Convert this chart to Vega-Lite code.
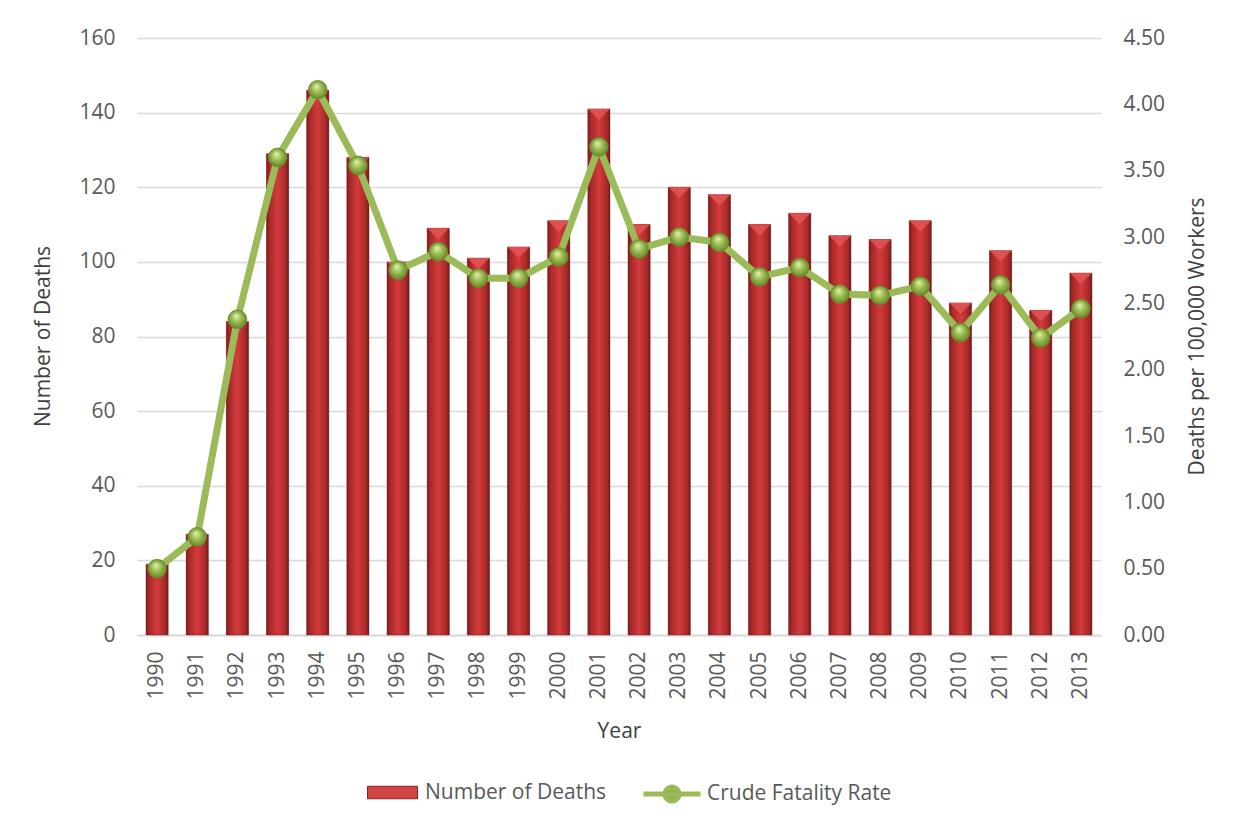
{
  "$schema": "https://vega.github.io/schema/vega-lite/v6.json",
  "width": 964,
  "height": 597,
  "autosize": {"type": "none"},
  "padding": {"left": 137, "top": 38, "right": 134, "bottom": 192},
  "background": "white",
  "config": {
    "font": "Open Sans",
    "view": {"stroke": null},
    "axis": {"labelColor": "#595959", "titleColor": "#404040", "labelFontSize": 21, "titleFontSize": 21, "titleFontWeight": "normal", "ticks": false, "gridColor": "#d9d9d9", "gridWidth": 1.5, "domainColor": "#d9d9d9", "domainWidth": 2},
    "legend": {"labelColor": "#595959", "labelFontSize": 21, "labelLimit": 0, "padding": 0, "title": null}
  },
  "data": {"values": [
    {"year": "1990", "deaths": 19, "rate": 0.50},
    {"year": "1991", "deaths": 27, "rate": 0.74},
    {"year": "1992", "deaths": 84, "rate": 2.38},
    {"year": "1993", "deaths": 129, "rate": 3.60},
    {"year": "1994", "deaths": 146, "rate": 4.11},
    {"year": "1995", "deaths": 128, "rate": 3.54},
    {"year": "1996", "deaths": 100, "rate": 2.75},
    {"year": "1997", "deaths": 109, "rate": 2.89},
    {"year": "1998", "deaths": 101, "rate": 2.69},
    {"year": "1999", "deaths": 104, "rate": 2.69},
    {"year": "2000", "deaths": 111, "rate": 2.85},
    {"year": "2001", "deaths": 141, "rate": 3.68},
    {"year": "2002", "deaths": 110, "rate": 2.91},
    {"year": "2003", "deaths": 120, "rate": 3.00},
    {"year": "2004", "deaths": 118, "rate": 2.96},
    {"year": "2005", "deaths": 110, "rate": 2.70},
    {"year": "2006", "deaths": 113, "rate": 2.77},
    {"year": "2007", "deaths": 107, "rate": 2.57},
    {"year": "2008", "deaths": 106, "rate": 2.56},
    {"year": "2009", "deaths": 111, "rate": 2.63},
    {"year": "2010", "deaths": 89, "rate": 2.28},
    {"year": "2011", "deaths": 103, "rate": 2.64},
    {"year": "2012", "deaths": 87, "rate": 2.24},
    {"year": "2013", "deaths": 97, "rate": 2.46}
  ]},
  "encoding": {
    "x": {"field": "year", "type": "ordinal", "title": "Year",
      "scale": {"paddingInner": 0.45, "paddingOuter": 0.225},
      "axis": {"labelAngle": -90, "labelPadding": 16, "titleY": 96, "titleBaseline": "middle", "grid": false}}
  },
  "layer": [
    {
      "encoding": {
        "y": {"field": "deaths", "type": "quantitative", "title": "Number of Deaths",
          "scale": {"domain": [0, 160], "nice": false},
          "axis": {"values": [0, 20, 40, 60, 80, 100, 120, 140, 160], "labelPadding": 22, "domain": false, "titleX": -94, "titleY": 298, "titleBaseline": "middle", "titleAngle": -90}}
      },
      "layer": [
        {
          "mark": {"type": "bar"},
          "encoding": {
            "fill": {"datum": "Number of Deaths", "type": "nominal",
              "scale": {"range": ["#d24545"]},
              "legend": {"orient": "none", "legendX": 230, "legendY": 729, "symbolType": "M-1,-0.25H1V0.25H-1Z", "symbolSize": 2500, "symbolStrokeColor": "#8b1e1e", "symbolStrokeWidth": 1, "labelOffset": 7}}
          }
        },
        {
          "mark": {"type": "bar", "stroke": "#7a1c1c", "strokeWidth": 0.8, "strokeOpacity": 0.6,
            "fill": {"gradient": "linear", "x1": 0, "y1": 0, "x2": 1, "y2": 0,
              "stops": [
                {"offset": 0, "color": "#7e1d1d"},
                {"offset": 0.15, "color": "#a82a2a"},
                {"offset": 0.5, "color": "#d43b3b"},
                {"offset": 0.85, "color": "#a82a2a"},
                {"offset": 1, "color": "#731a1a"}
              ]}}
        },
        {
          "mark": {"type": "point", "shape": "M-1,0H1L0,1Z", "filled": true, "size": 470, "fill": "#e25252", "opacity": 0.9, "strokeWidth": 0}
        }
      ]
    },
    {
      "encoding": {
        "y": {"field": "rate", "type": "quantitative", "title": "Deaths per 100,000 Workers",
          "scale": {"domain": [0, 4.5], "nice": false},
          "axis": {"orient": "right", "format": ".2f", "values": [0, 0.5, 1, 1.5, 2, 2.5, 3, 3.5, 4, 4.5], "labelPadding": 22, "domain": false, "grid": false, "titleX": 96, "titleY": 298, "titleBaseline": "middle", "titleAngle": -90}}
      },
      "layer": [
        {
          "mark": {"type": "line", "strokeWidth": 7},
          "encoding": {
            "stroke": {"datum": "Crude Fatality Rate", "type": "nominal",
              "scale": {"range": ["#9bbb59"]},
              "legend": {"orient": "none", "legendX": 504, "legendY": 725, "symbolType": "M-1,0H1M-0.25,0A0.25,0.25 0 1,1 0.25,0A0.25,0.25 0 1,1 -0.25,0Z", "symbolSize": 3249, "symbolStrokeWidth": 5, "symbolFillColor": "#8fb04a", "labelOffset": 4}}
          }
        },
        {
          "mark": {"type": "point", "shape": "circle", "filled": true, "size": 350, "opacity": 1,
            "stroke": "#6b8a2e", "strokeWidth": 0.8,
            "fill": {"gradient": "radial", "x1": 0.42, "y1": 0.3, "r1": 0, "x2": 0.5, "y2": 0.5, "r2": 0.55,
              "stops": [
                {"offset": 0, "color": "#e6f2b8"},
                {"offset": 0.45, "color": "#9fc055"},
                {"offset": 1, "color": "#5f7f24"}
              ]}}
        }
      ]
    }
  ],
  "resolve": {"scale": {"y": "independent"}}
}
